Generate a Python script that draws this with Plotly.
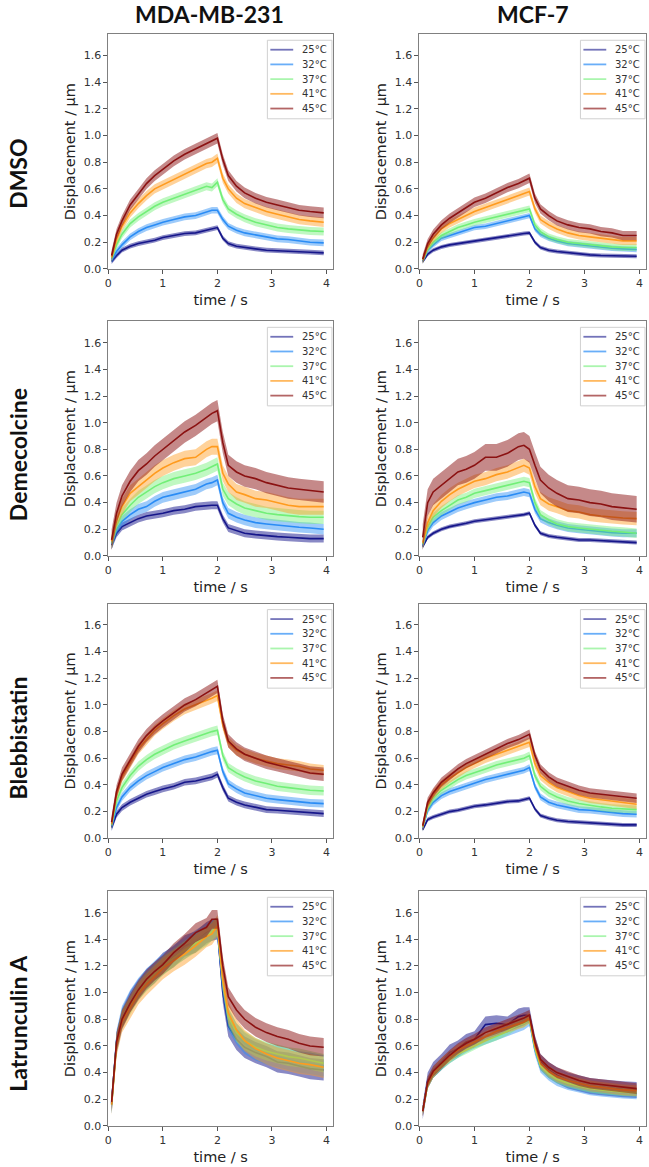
"""Displacement vs time at five temperatures, two cell lines x four treatments (plotly)"""
import plotly.graph_objects as go
from plotly.subplots import make_subplots

W, H = 649, 1167

cell_lines = ["MDA-MB-231", "MCF-7"]
treatments = ["DMSO", "Demecolcine", "Blebbistatin", "Latrunculin A"]
temps = ["25°C", "32°C", "37°C", "41°C", "45°C"]

time_s = [0.06, 0.15, 0.25, 0.4, 0.55, 0.7, 0.85, 1.0, 1.2, 1.4, 1.6, 1.8, 1.9,
          2.0, 2.1, 2.2, 2.35, 2.5, 2.7, 2.9, 3.1, 3.3, 3.5, 3.7, 3.95]

# mean displacement (µm), one row per temperature: 25, 32, 37, 41, 45 °C
dmso_mda = [
    [0.055, 0.10, 0.14, 0.17, 0.19, 0.20, 0.215, 0.235, 0.25, 0.265, 0.27, 0.29, 0.295, 0.31, 0.23, 0.19, 0.17, 0.16, 0.15, 0.14, 0.135, 0.135, 0.13, 0.125, 0.12],
    [0.07, 0.13, 0.18, 0.24, 0.28, 0.31, 0.33, 0.35, 0.37, 0.39, 0.40, 0.43, 0.44, 0.44, 0.37, 0.32, 0.29, 0.27, 0.255, 0.24, 0.225, 0.22, 0.21, 0.20, 0.195],
    [0.08, 0.18, 0.26, 0.34, 0.39, 0.43, 0.47, 0.50, 0.53, 0.56, 0.59, 0.62, 0.61, 0.65, 0.52, 0.45, 0.41, 0.38, 0.35, 0.33, 0.31, 0.30, 0.29, 0.285, 0.28],
    [0.09, 0.22, 0.32, 0.42, 0.49, 0.55, 0.60, 0.63, 0.67, 0.71, 0.75, 0.79, 0.80, 0.83, 0.68, 0.60, 0.53, 0.49, 0.46, 0.43, 0.41, 0.39, 0.37, 0.36, 0.35],
    [0.10, 0.26, 0.36, 0.48, 0.56, 0.64, 0.70, 0.75, 0.81, 0.86, 0.90, 0.94, 0.96, 0.98, 0.82, 0.70, 0.62, 0.57, 0.53, 0.50, 0.48, 0.46, 0.44, 0.43, 0.42],
]
dmso_mcf = [
    [0.055, 0.11, 0.14, 0.165, 0.18, 0.19, 0.20, 0.21, 0.22, 0.235, 0.245, 0.26, 0.265, 0.27, 0.20, 0.16, 0.14, 0.13, 0.12, 0.11, 0.105, 0.10, 0.10, 0.095, 0.095],
    [0.06, 0.14, 0.18, 0.23, 0.25, 0.27, 0.29, 0.31, 0.32, 0.34, 0.36, 0.38, 0.39, 0.40, 0.30, 0.26, 0.23, 0.21, 0.19, 0.18, 0.17, 0.16, 0.155, 0.15, 0.145],
    [0.065, 0.15, 0.20, 0.25, 0.28, 0.31, 0.33, 0.35, 0.37, 0.39, 0.41, 0.43, 0.44, 0.45, 0.33, 0.28, 0.24, 0.22, 0.20, 0.19, 0.18, 0.17, 0.165, 0.16, 0.16],
    [0.07, 0.17, 0.23, 0.30, 0.34, 0.37, 0.40, 0.43, 0.46, 0.49, 0.52, 0.55, 0.56, 0.58, 0.45, 0.37, 0.33, 0.30, 0.27, 0.25, 0.24, 0.23, 0.22, 0.21, 0.21],
    [0.075, 0.19, 0.26, 0.33, 0.38, 0.42, 0.46, 0.50, 0.53, 0.57, 0.61, 0.64, 0.66, 0.68, 0.53, 0.45, 0.40, 0.36, 0.33, 0.31, 0.30, 0.28, 0.27, 0.25, 0.25],
]
deme_mda = [
    [0.08, 0.17, 0.22, 0.25, 0.28, 0.30, 0.31, 0.32, 0.34, 0.35, 0.37, 0.38, 0.38, 0.38, 0.28, 0.21, 0.19, 0.17, 0.16, 0.15, 0.145, 0.14, 0.135, 0.13, 0.13],
    [0.09, 0.20, 0.26, 0.31, 0.35, 0.37, 0.41, 0.44, 0.46, 0.48, 0.50, 0.54, 0.55, 0.57, 0.40, 0.32, 0.29, 0.27, 0.25, 0.24, 0.23, 0.22, 0.215, 0.21, 0.20],
    [0.10, 0.23, 0.31, 0.38, 0.44, 0.48, 0.52, 0.55, 0.58, 0.60, 0.62, 0.65, 0.67, 0.69, 0.50, 0.43, 0.39, 0.36, 0.34, 0.32, 0.31, 0.30, 0.295, 0.29, 0.29],
    [0.11, 0.27, 0.37, 0.47, 0.52, 0.57, 0.62, 0.66, 0.70, 0.73, 0.74, 0.80, 0.82, 0.82, 0.62, 0.54, 0.48, 0.46, 0.43, 0.42, 0.40, 0.38, 0.37, 0.37, 0.37],
    [0.12, 0.32, 0.45, 0.56, 0.64, 0.69, 0.75, 0.80, 0.86, 0.93, 0.98, 1.04, 1.07, 1.09, 0.85, 0.68, 0.63, 0.60, 0.58, 0.55, 0.53, 0.51, 0.50, 0.49, 0.48],
]
deme_mcf = [
    [0.07, 0.14, 0.17, 0.20, 0.22, 0.23, 0.245, 0.26, 0.27, 0.28, 0.295, 0.305, 0.31, 0.32, 0.23, 0.17, 0.15, 0.14, 0.13, 0.12, 0.12, 0.115, 0.11, 0.105, 0.10],
    [0.08, 0.19, 0.25, 0.30, 0.33, 0.36, 0.38, 0.40, 0.42, 0.44, 0.45, 0.47, 0.48, 0.47, 0.35, 0.28, 0.25, 0.23, 0.21, 0.20, 0.19, 0.18, 0.175, 0.17, 0.17],
    [0.09, 0.22, 0.29, 0.34, 0.38, 0.42, 0.44, 0.47, 0.49, 0.51, 0.53, 0.55, 0.56, 0.55, 0.40, 0.31, 0.27, 0.24, 0.22, 0.21, 0.20, 0.19, 0.185, 0.18, 0.17],
    [0.10, 0.25, 0.34, 0.41, 0.46, 0.50, 0.53, 0.56, 0.58, 0.61, 0.63, 0.66, 0.68, 0.66, 0.52, 0.43, 0.39, 0.37, 0.34, 0.33, 0.31, 0.30, 0.29, 0.285, 0.28],
    [0.14, 0.40, 0.48, 0.53, 0.58, 0.63, 0.65, 0.68, 0.74, 0.74, 0.77, 0.82, 0.83, 0.80, 0.68, 0.57, 0.51, 0.47, 0.43, 0.42, 0.40, 0.39, 0.37, 0.36, 0.35],
]
bleb_mda = [
    [0.08, 0.18, 0.23, 0.27, 0.30, 0.33, 0.35, 0.37, 0.39, 0.42, 0.43, 0.45, 0.46, 0.48, 0.38, 0.30, 0.27, 0.25, 0.235, 0.215, 0.21, 0.205, 0.20, 0.19, 0.185],
    [0.09, 0.23, 0.31, 0.38, 0.43, 0.47, 0.50, 0.53, 0.56, 0.59, 0.61, 0.64, 0.65, 0.66, 0.50, 0.41, 0.37, 0.34, 0.32, 0.30, 0.29, 0.28, 0.27, 0.265, 0.26],
    [0.10, 0.28, 0.38, 0.47, 0.54, 0.59, 0.63, 0.66, 0.70, 0.73, 0.76, 0.79, 0.80, 0.81, 0.62, 0.53, 0.49, 0.46, 0.43, 0.41, 0.39, 0.38, 0.37, 0.36, 0.355],
    [0.11, 0.33, 0.46, 0.57, 0.67, 0.74, 0.81, 0.86, 0.92, 0.97, 1.00, 1.03, 1.05, 1.07, 0.85, 0.72, 0.66, 0.63, 0.60, 0.58, 0.56, 0.55, 0.54, 0.52, 0.51],
    [0.12, 0.35, 0.48, 0.59, 0.69, 0.77, 0.83, 0.88, 0.94, 1.00, 1.04, 1.09, 1.11, 1.14, 0.88, 0.73, 0.67, 0.63, 0.60, 0.57, 0.55, 0.53, 0.51, 0.49, 0.48],
]
bleb_mcf = [
    [0.065, 0.14, 0.16, 0.18, 0.20, 0.21, 0.225, 0.24, 0.25, 0.265, 0.275, 0.28, 0.29, 0.30, 0.22, 0.17, 0.15, 0.135, 0.125, 0.12, 0.115, 0.11, 0.105, 0.10, 0.10],
    [0.08, 0.21, 0.27, 0.32, 0.35, 0.37, 0.39, 0.41, 0.44, 0.46, 0.48, 0.50, 0.51, 0.53, 0.39, 0.31, 0.27, 0.25, 0.23, 0.215, 0.21, 0.20, 0.19, 0.185, 0.18],
    [0.085, 0.23, 0.30, 0.36, 0.40, 0.44, 0.47, 0.49, 0.52, 0.55, 0.57, 0.59, 0.60, 0.62, 0.47, 0.39, 0.34, 0.31, 0.28, 0.26, 0.245, 0.235, 0.225, 0.22, 0.215],
    [0.09, 0.25, 0.33, 0.40, 0.45, 0.49, 0.53, 0.56, 0.60, 0.63, 0.66, 0.69, 0.70, 0.72, 0.56, 0.47, 0.42, 0.38, 0.35, 0.32, 0.30, 0.29, 0.28, 0.265, 0.255],
    [0.095, 0.27, 0.34, 0.42, 0.47, 0.52, 0.56, 0.59, 0.63, 0.67, 0.71, 0.74, 0.76, 0.78, 0.62, 0.52, 0.46, 0.42, 0.39, 0.36, 0.34, 0.33, 0.32, 0.31, 0.30],
]
latA_mda = [
    [0.17, 0.62, 0.80, 0.93, 1.02, 1.10, 1.15, 1.22, 1.27, 1.35, 1.38, 1.45, 1.47, 1.48, 1.00, 0.75, 0.65, 0.59, 0.55, 0.52, 0.48, 0.47, 0.45, 0.43, 0.42],
    [0.17, 0.64, 0.82, 0.94, 1.03, 1.10, 1.16, 1.21, 1.28, 1.33, 1.39, 1.44, 1.47, 1.48, 1.05, 0.80, 0.69, 0.62, 0.57, 0.54, 0.52, 0.50, 0.48, 0.47, 0.45],
    [0.16, 0.62, 0.80, 0.91, 1.01, 1.08, 1.14, 1.20, 1.26, 1.32, 1.37, 1.42, 1.46, 1.50, 1.08, 0.82, 0.70, 0.64, 0.59, 0.56, 0.54, 0.52, 0.51, 0.49, 0.47],
    [0.16, 0.60, 0.78, 0.89, 0.99, 1.06, 1.12, 1.18, 1.24, 1.29, 1.35, 1.42, 1.44, 1.50, 1.10, 0.85, 0.72, 0.64, 0.58, 0.54, 0.51, 0.49, 0.47, 0.46, 0.44],
    [0.18, 0.63, 0.80, 0.92, 1.02, 1.10, 1.16, 1.21, 1.30, 1.37, 1.45, 1.49, 1.55, 1.55, 1.20, 0.97, 0.87, 0.80, 0.74, 0.70, 0.67, 0.65, 0.62, 0.60, 0.59],
]
latA_mcf = [
    [0.11, 0.34, 0.42, 0.48, 0.55, 0.58, 0.63, 0.65, 0.76, 0.77, 0.76, 0.82, 0.83, 0.83, 0.62, 0.48, 0.42, 0.38, 0.34, 0.32, 0.30, 0.29, 0.28, 0.275, 0.27],
    [0.11, 0.32, 0.40, 0.46, 0.51, 0.55, 0.59, 0.62, 0.65, 0.68, 0.71, 0.74, 0.76, 0.79, 0.57, 0.44, 0.38, 0.34, 0.31, 0.29, 0.27, 0.26, 0.25, 0.245, 0.24],
    [0.11, 0.31, 0.39, 0.45, 0.50, 0.54, 0.57, 0.60, 0.64, 0.67, 0.71, 0.76, 0.77, 0.80, 0.58, 0.45, 0.39, 0.35, 0.32, 0.30, 0.28, 0.27, 0.26, 0.255, 0.25],
    [0.11, 0.32, 0.40, 0.47, 0.52, 0.57, 0.60, 0.63, 0.67, 0.71, 0.74, 0.77, 0.78, 0.81, 0.60, 0.47, 0.41, 0.37, 0.34, 0.32, 0.30, 0.29, 0.28, 0.27, 0.265],
    [0.11, 0.33, 0.41, 0.47, 0.53, 0.58, 0.62, 0.65, 0.70, 0.73, 0.76, 0.79, 0.81, 0.83, 0.63, 0.50, 0.44, 0.40, 0.37, 0.34, 0.32, 0.31, 0.30, 0.29, 0.28],
]

# half-width of the shaded band (µm), per temperature
err_dmso_mda = [0.018, 0.025, 0.03, 0.035, 0.04]
err_dmso_mcf = [0.015, 0.02, 0.025, 0.03, 0.035]
err_deme_mda = [0.03, 0.04, 0.05, 0.06, 0.08]
err_deme_mcf = [0.015, 0.03, 0.035, 0.05, 0.1]
err_bleb_mda = [0.025, 0.03, 0.035, 0.04, 0.05]
err_bleb_mcf = [0.015, 0.025, 0.03, 0.035, 0.035]
err_latA_mda = [0.08, 0.08, 0.07, 0.08, 0.07]
err_latA_mcf = [0.06, 0.04, 0.03, 0.04, 0.04]

panels = [
    [(dmso_mda, err_dmso_mda), (dmso_mcf, err_dmso_mcf)],
    [(deme_mda, err_deme_mda), (deme_mcf, err_deme_mcf)],
    [(bleb_mda, err_bleb_mda), (bleb_mcf, err_bleb_mcf)],
    [(latA_mda, err_latA_mda), (latA_mcf, err_latA_mcf)],
]

line_colors = ["#16168a", "#2a8cf5", "#72ef78", "#ff9b1e", "#8b1212"]
band_colors = ["rgba(20,20,140,0.5)", "rgba(40,140,245,0.45)", "rgba(115,240,120,0.45)",
               "rgba(255,155,30,0.45)", "rgba(139,20,20,0.5)"]
legend_colors = ["rgba(22,22,138,0.6)", "rgba(42,140,245,0.7)", "rgba(114,239,120,0.6)",
                 "rgba(255,155,30,0.7)", "rgba(139,18,18,0.65)"]

# panel boxes in pixels
col_px = [(105, 331), (418, 646)]
row_top_px = [34.5, 323.3, 607.3, 896.7]
panel_h = 236

fig = make_subplots(rows=4, cols=2)

tick_font = dict(family="DejaVu Sans", size=11, color="#333333")
title_font = dict(family="DejaVu Sans", size=14.5, color="#222222")
leg_font = dict(family="DejaVu Sans", size=10, color="#333333")

shapes = []
annotations = []

for r in range(4):
    for c in range(2):
        means, errs = panels[r][c]
        for i, temp in enumerate(temps):
            upper = [m + errs[i] for m in means[i]]
            lower = [m - errs[i] for m in means[i]]
            fig.add_trace(go.Scatter(x=time_s, y=upper, mode="lines", line=dict(width=0),
                                     showlegend=False, hoverinfo="skip"),
                          row=r + 1, col=c + 1)
            fig.add_trace(go.Scatter(x=time_s, y=lower, mode="lines", line=dict(width=0),
                                     fill="tonexty", fillcolor=band_colors[i],
                                     showlegend=False, hoverinfo="skip"),
                          row=r + 1, col=c + 1)
            fig.add_trace(go.Scatter(x=time_s, y=means[i], mode="lines", name=temp,
                                     line=dict(color=line_colors[i], width=1.6),
                                     showlegend=False),
                          row=r + 1, col=c + 1)

        k = r * 2 + c + 1
        x0, x1 = col_px[c]
        top = row_top_px[r]
        bottom = top + panel_h
        xa = "xaxis" if k == 1 else f"xaxis{k}"
        ya = "yaxis" if k == 1 else f"yaxis{k}"
        fig.layout[xa].update(
            domain=[x0 / W, x1 / W], range=[0, 4.12], tickvals=[0, 1, 2, 3, 4],
            showgrid=False, zeroline=False,
            showline=True, mirror=True, linecolor="#808080", linewidth=1,
            ticks="outside", ticklen=4, tickcolor="#555555", tickfont=tick_font,
            title=dict(text="time / s", font=title_font, standoff=5),
        )
        fig.layout[ya].update(
            domain=[1 - bottom / H, 1 - top / H], range=[0, 1.76],
            tickvals=[0, 0.2, 0.4, 0.6, 0.8, 1.0, 1.2, 1.4, 1.6],
            tickformat=".1f", showgrid=False, zeroline=False,
            showline=True, mirror=True, linecolor="#808080", linewidth=1,
            ticks="outside", ticklen=4, tickcolor="#555555", tickfont=tick_font,
            title=dict(text="Displacement / µm", font=title_font, standoff=4),
        )

        # matplotlib-style legend box in the top right corner of the panel
        bx1 = x1 - 1
        bx0 = bx1 - 65
        by0 = top + 6
        by1 = by0 + 79
        shapes.append(dict(type="rect", xref="paper", yref="paper",
                           x0=bx0 / W, x1=bx1 / W, y0=1 - by1 / H, y1=1 - by0 / H,
                           line=dict(color="#d0d0d0", width=1),
                           fillcolor="rgba(255,255,255,0.85)", layer="above"))
        for i, temp in enumerate(temps):
            ey = by0 + 9.5 + i * 14.8
            shapes.append(dict(type="line", xref="paper", yref="paper",
                               x0=(bx0 + 3) / W, x1=(bx0 + 26) / W,
                               y0=1 - ey / H, y1=1 - ey / H,
                               line=dict(color=legend_colors[i], width=1.8), layer="above"))
            annotations.append(dict(text=temp, x=(bx0 + 33) / W, y=1 - ey / H,
                                    xref="paper", yref="paper", showarrow=False,
                                    xanchor="left", yanchor="middle", font=leg_font))

head_font = dict(family="Lato", size=23, color="#111111")
col_title_x = [207, 532]
for c, name in enumerate(cell_lines):
    annotations.append(dict(text=f"<b>{name}</b>", x=col_title_x[c] / W, y=1 - 14 / H,
                            xref="paper", yref="paper", showarrow=False, font=head_font,
                            xanchor="center", yanchor="middle"))
row_label_y = [175, 457, 742, 1029]
for r, name in enumerate(treatments):
    annotations.append(dict(text=f"<b>{name}</b>", x=14 / W, y=1 - row_label_y[r] / H,
                            xref="paper", yref="paper", showarrow=False, font=head_font,
                            textangle=-90, xanchor="center", yanchor="middle"))

fig.update_layout(
    width=W, height=H, margin=dict(l=0, r=0, t=0, b=0),
    plot_bgcolor="white", paper_bgcolor="white",
    shapes=shapes, annotations=annotations,
)

fig.write_html("out.html", config={"displayModeBar": False},
               post_script="document.body.style.margin='0';document.body.style.overflow='hidden';")
